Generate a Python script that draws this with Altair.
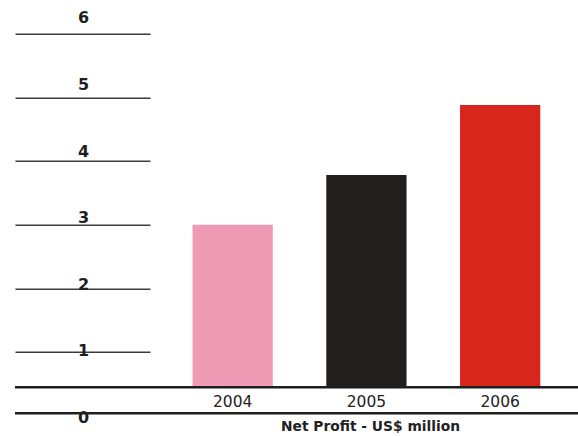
import altair as alt
import pandas as pd

# Net profit per year, US$ million
years = ["2004", "2005", "2006"]
profit = [3.0, 3.78, 4.88]
bar_colors = ["#f09bb5", "#231f1c", "#d8261d"]

# Bars stand on a raised baseline; a second rule sits just above zero
baseline_value = 0.445
floor_value = 0.036
tick_values = [0, 1, 2, 3, 4, 5, 6]

bars_df = pd.DataFrame({"year": years, "profit": profit,
                        "base": [baseline_value] * len(years)})
rules_df = pd.DataFrame({"level": [baseline_value, floor_value]})

x_enc = alt.X(
    "year:N",
    sort=years,
    scale=alt.Scale(paddingInner=0.4, paddingOuter=0.3, align=0.53),
    axis=alt.Axis(
        title="Net Profit - US$ million",
        domain=False, ticks=False, labelAngle=0,
        labelFont="DejaVu Sans", labelFontSize=15.5, labelColor="#222222",
        labelBaseline="middle", labelPadding=0, offset=-14,
        titleFont="DejaVu Sans", titleFontSize=13.8, titleFontWeight="bold",
        titleColor="#222222", titleX=220, titleY=24.5, titleBaseline="middle",
        titleAnchor="start", titleAlign="center",
    ),
)

y_scale = alt.Scale(domain=[0, 6], nice=False, zero=False)

bars = alt.Chart(bars_df).mark_bar().encode(
    x=x_enc,
    y=alt.Y(
        "profit:Q",
        scale=y_scale,
        axis=alt.Axis(
            title=None, domain=False, grid=False,
            values=tick_values, format="d",
            tickSize=135, tickWidth=1.6, tickColor="#3c3c3c",
            tickOpacity={"condition": {"test": "datum.value == 0", "value": 0}, "value": 1},
            labelAlign="center", labelPadding=-68,
            labelBaseline="middle",
            labelOffset={"expr": "2 - 3 * datum.value"},
            labelFont="DejaVu Sans", labelFontSize=16, labelFontWeight="bold",
            labelColor="#1e1e1e",
        ),
    ),
    y2="base:Q",
    color=alt.Color("year:N", scale=alt.Scale(domain=years, range=bar_colors),
                    legend=None),
)

rules = alt.Chart(rules_df).mark_rule(color="#1e1e1e", strokeWidth=2.4).encode(
    y=alt.Y("level:Q", scale=y_scale),
    x=alt.value(-135),
    x2=alt.value(428),
)

chart = alt.layer(bars, rules).properties(
    width=428,
    height=381.9,
    autosize=alt.AutoSizeParams(type="none"),
    padding={"left": 150, "top": 33.7, "right": 0, "bottom": 20.4},
).configure_view(stroke=None)

chart.save("out.html", embed_options={"renderer": "svg", "actions": False})
